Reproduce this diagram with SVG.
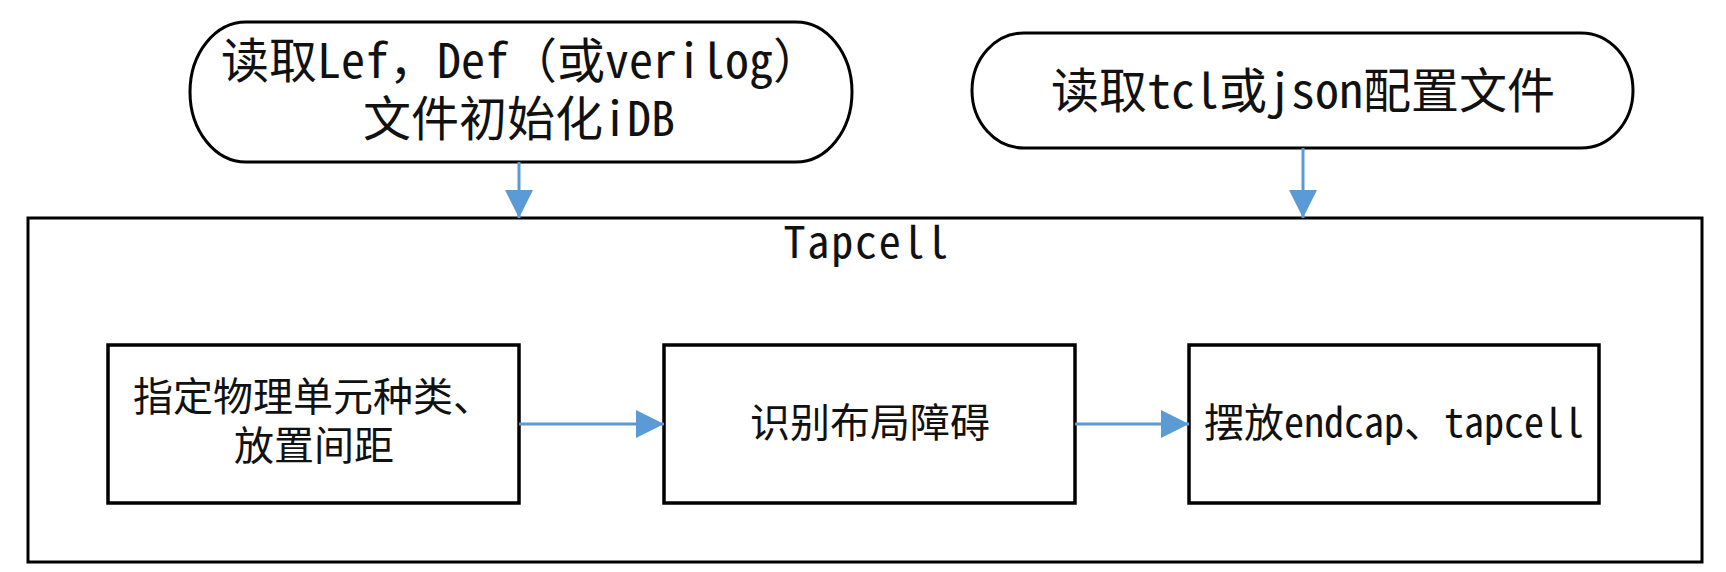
<svg xmlns="http://www.w3.org/2000/svg" width="1726" height="572" viewBox="0 0 1726 572">
  <defs>
    <marker id="ah" markerUnits="userSpaceOnUse" markerWidth="28" markerHeight="28" viewBox="0 0 28 28" refX="28" refY="14" orient="auto">
      <path d="M0,0 L28,14 L0,28 Z" fill="#5B9BD5"/>
    </marker>
  </defs>
  <style>
    .shape { fill: #ffffff; stroke: #000000; stroke-width: 3; }
    .box { fill: #ffffff; stroke: #000000; stroke-width: 3.5; }
    .t { font-family: "Noto Sans Mono CJK SC", "Noto Sans CJK SC", "DejaVu Sans Mono", monospace; fill: #111111; text-anchor: middle; }
    .big { font-size: 48px; }
    .mid { font-size: 40px; }
    .conn { stroke: #5B9BD5; stroke-width: 3; fill: none; marker-end: url(#ah); }
  </style>
  <rect width="1726" height="572" fill="#ffffff"/>

  <g id="tapcell">
    <rect class="shape" x="28" y="218" width="1674" height="344"/>
    <text class="t" x="866" y="258" font-size="44" textLength="165">Tapcell</text>
  </g>

  <g id="read-lef-def">
    <rect class="shape" x="190" y="22" width="662" height="140" rx="56" ry="70"/>
    <text class="t big"><tspan x="521" y="78" textLength="600">读取Lef，Def（或verilog）</tspan><tspan x="519" y="136" textLength="312">文件初始化iDB</tspan></text>
  </g>

  <g id="read-tcl-json">
    <rect class="shape" x="972" y="33" width="661" height="115" rx="52" ry="57.5"/>
    <text class="t big" x="1303" y="108" textLength="504">读取tcl或json配置文件</text>
  </g>

  <g id="specify-cells">
    <rect class="box" x="108" y="345" width="411" height="158"/>
    <text class="t mid"><tspan x="313" y="411" textLength="360">指定物理单元种类、</tspan><tspan x="314" y="460" textLength="160">放置间距</tspan></text>
  </g>

  <g id="identify-obstacles">
    <rect class="box" x="664" y="345" width="411" height="158"/>
    <text class="t mid" x="870" y="437" textLength="240">识别布局障碍</text>
  </g>

  <g id="place-cells">
    <rect class="box" x="1189" y="345" width="410" height="158"/>
    <text class="t mid" x="1394" y="437" textLength="380">摆放endcap、tapcell</text>
  </g>

  <g id="connectors">
    <path class="conn" d="M519,162 L519,218"/>
    <path class="conn" d="M1303,148 L1303,218"/>
    <path class="conn" d="M519,424 L664,424"/>
    <path class="conn" d="M1075,424 L1189,424"/>
  </g>
</svg>
